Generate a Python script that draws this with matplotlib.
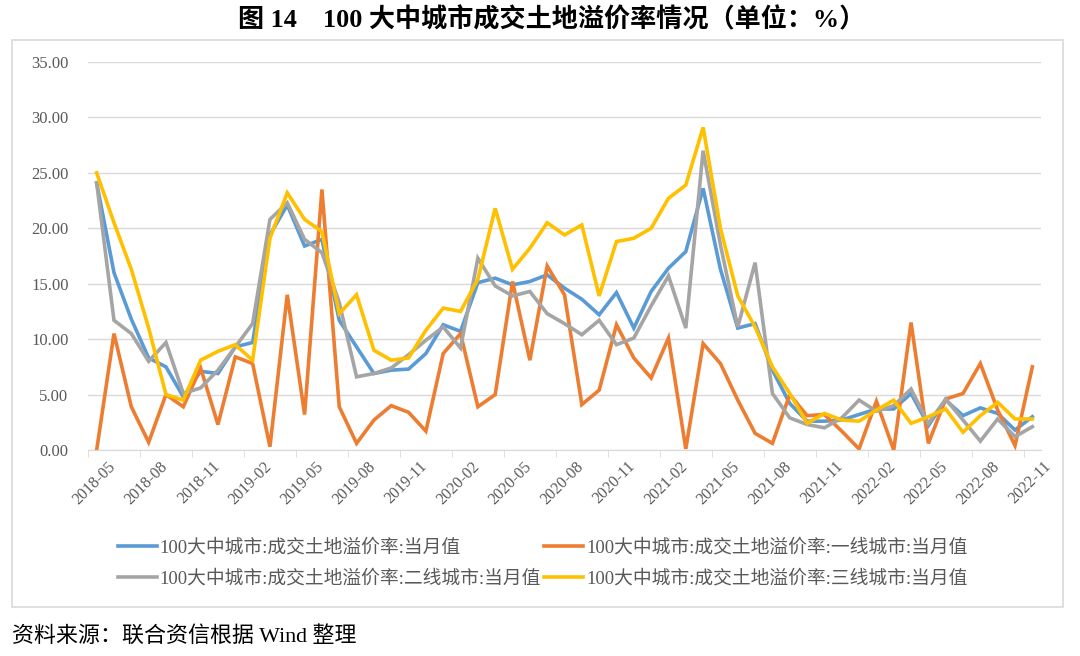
import matplotlib.pyplot as plt
import matplotlib.transforms as mtrans
import numpy as np
import pandas as pd
from matplotlib.patches import Rectangle

# months on the x axis
months = pd.period_range("2018-05", "2022-11", freq="M").strftime("%Y-%m").tolist()

# 100 cities, all
total = [24.1, 16.0, 11.8, 8.3, 7.5, 4.8, 7.1, 6.9, 9.3, 9.7,
         19.4, 22.1, 18.4, 19.0, 11.7, 9.3, 6.9, 7.2, 7.3, 8.7,
         11.3, 10.7, 15.1, 15.5, 14.9, 15.2, 15.8, 14.6, 13.6, 12.2,
         14.2, 11.0, 14.3, 16.4, 17.9, 23.6, 16.3, 11.0, 11.4, 7.2,
         4.2, 2.6, 2.6, 2.7, 3.2, 3.7, 3.7, 5.1, 2.2, 4.5,
         3.1, 3.8, 3.3, 1.8, 3.0]
# tier 1
tier1 = [0.0, 10.5, 3.9, 0.7, 5.0, 3.9, 7.4, 2.3, 8.4, 7.8,
         0.3, 14.0, 3.2, 23.5, 3.9, 0.6, 2.7, 4.0, 3.4, 1.7,
         8.7, 10.5, 3.9, 5.0, 15.2, 8.1, 16.6, 14.0, 4.1, 5.4,
         11.3, 8.3, 6.5, 10.1, 0.1, 9.6, 7.8, 4.5, 1.5, 0.6,
         5.0, 3.1, 3.2, 1.7, 0.1, 4.4, 0.0, 11.5, 0.6, 4.6,
         5.1, 7.8, 3.6, 0.4, 7.5]
# tier 2
tier2 = [24.1, 11.7, 10.5, 8.0, 9.7, 5.1, 5.6, 7.2, 9.3, 11.4,
         20.8, 22.3, 19.0, 17.8, 13.3, 6.6, 6.9, 7.4, 8.6, 9.9,
         11.1, 9.2, 17.3, 14.8, 13.9, 14.3, 12.3, 11.4, 10.4, 11.7,
         9.5, 10.1, 13.0, 15.7, 11.0, 27.0, 18.5, 11.1, 16.9, 5.1,
         2.9, 2.3, 2.0, 2.9, 4.5, 3.5, 4.0, 5.5, 2.4, 4.6,
         2.7, 0.8, 2.8, 1.2, 2.1]
# tier 3
tier3 = [25.0, 20.5, 16.3, 11.0, 5.0, 4.5, 8.1, 8.9, 9.5, 8.1,
         19.1, 23.2, 20.8, 19.7, 12.3, 14.0, 9.0, 8.1, 8.3, 10.8,
         12.8, 12.5, 15.4, 21.8, 16.3, 18.2, 20.5, 19.4, 20.3, 13.9,
         18.8, 19.1, 20.0, 22.7, 23.9, 29.1, 20.0, 13.9, 11.1, 7.5,
         5.1, 2.4, 3.3, 2.7, 2.6, 3.6, 4.5, 2.4, 3.0, 3.7,
         1.6, 3.1, 4.3, 2.8, 2.8]

labels = ["100大中城市:成交土地溢价率:当月值",
          "100大中城市:成交土地溢价率:一线城市:当月值",
          "100大中城市:成交土地溢价率:二线城市:当月值",
          "100大中城市:成交土地溢价率:三线城市:当月值"]
colors = ["#5B9BD5", "#ED7D31", "#A5A5A5", "#FFC000"]

fam = ["Liberation Serif", "Noto Sans CJK SC", "DejaVu Sans"]
plt.rcParams["font.family"] = fam

fig = plt.figure(figsize=(10.8, 6.56), dpi=100)
ax = fig.add_axes([88 / 1080, 1 - 450 / 656, (1041 - 88) / 1080, (450 - 62) / 656])

x = np.arange(len(months))
lines = []
for s, c, lab in zip([total, tier1, tier2, tier3], colors, labels):
    ln, = ax.plot(x, s, color=c, lw=2.6, label=lab, solid_joinstyle="miter")
    lines.append(ln)

ax.set_xlim(-0.5, len(months) - 0.5)
ax.set_ylim(0, 35)
ax.set_yticks(np.arange(0, 36, 5))
ax.set_yticklabels([f"{v:.2f}" for v in np.arange(0, 36, 5)])
ax.grid(axis="y", color="#D9D9D9", lw=1.0)
ax.set_axisbelow(True)
for sp in ["top", "right", "left"]:
    ax.spines[sp].set_visible(False)
ax.spines["bottom"].set_color("#D9D9D9")
ax.tick_params(axis="y", length=0, pad=14, labelsize=12, labelcolor="#595959")

# labels every 3 months, tick marks between categories
ax.set_xticks(x[::3])
ax.set_xticklabels(months[::3], rotation=45, ha="right", va="top",
                   rotation_mode="anchor", fontsize=11.5, color="#595959")
ax.set_xticks(np.arange(-0.5, len(months), 3), minor=True)
ax.tick_params(axis="x", which="major", length=0, pad=6)
ax.tick_params(axis="x", which="minor", length=5, color="#D9D9D9")
shift = mtrans.ScaledTranslation(11 / 100, 0, fig.dpi_scale_trans)
for t in ax.get_xticklabels():
    t.set_transform(t.get_transform() + shift)

fig.legend([lines[0], lines[2], lines[1], lines[3]],
           [labels[0], labels[2], labels[1], labels[3]],
           loc="center", bbox_to_anchor=(0.5023, 0.141), ncol=2, frameon=False,
           prop={"family": fam, "size": 13.5}, handlelength=2.1,
           handletextpad=0.15, columnspacing=0.15, labelspacing=0.7,
           labelcolor="#595959")

# outer chart frame
fig.patches.append(Rectangle((12 / 1080, 1 - 607 / 656), (1063 - 12) / 1080,
                             (607 - 40) / 656, transform=fig.transFigure,
                             fill=False, edgecolor="#D9D9D9", lw=1.2))

fig.text(552 / 1080, 1 - 20 / 656, "图 14　100 大中城市成交土地溢价率情况（单位：%）",
         ha="center", va="center", fontsize=18.8, fontweight="bold", family=fam)
fig.text(12 / 1080, 1 - 636 / 656, "资料来源：联合资信根据 Wind 整理",
         ha="left", va="center", fontsize=15.8, family=fam)

fig.savefig("out.png", dpi=100)
